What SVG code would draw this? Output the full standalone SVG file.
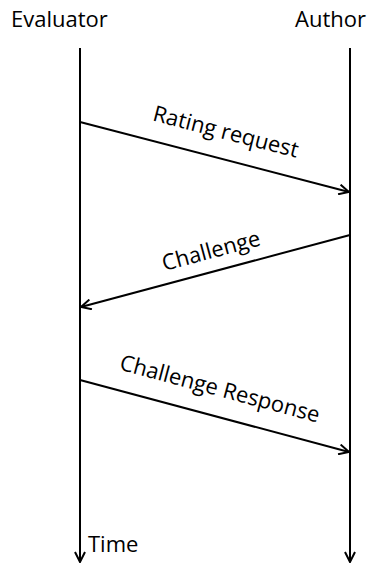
<svg xmlns="http://www.w3.org/2000/svg" width="380" height="565" viewBox="0 0 380 565">
  <style>
    text { font-family: "Open Sans", "Noto Sans", "Liberation Sans", sans-serif; font-size: 22px; fill: #000; }
    .life, .msg { stroke: #000; stroke-width: 2; fill: none; }
  </style>
  <defs>
    <marker id="head" viewBox="0 0 12 12" refX="11" refY="6" markerWidth="12" markerHeight="12" markerUnits="userSpaceOnUse" orient="auto">
      <path d="M1,1 L11,6 L1,11" fill="none" stroke="#000" stroke-width="2"/>
    </marker>
  </defs>

  <g id="evaluator">
    <text x="11" y="27">Evaluator</text>
  </g>
  <g id="author">
    <text x="295" y="27">Author</text>
  </g>
  <g id="time">
    <text x="88" y="552">Time</text>
  </g>

  <g id="connectors">
    <line class="life" x1="80" y1="48" x2="80" y2="562" marker-end="url(#head)"/>
    <line class="life" x1="350" y1="48" x2="350" y2="562" marker-end="url(#head)"/>
    <line class="msg" x1="80" y1="122" x2="349" y2="192" marker-end="url(#head)"/>
    <line class="msg" x1="350" y1="235" x2="81" y2="307" marker-end="url(#head)"/>
    <line class="msg" x1="80" y1="380" x2="349" y2="452" marker-end="url(#head)"/>
    <text transform="translate(224,139) rotate(14.5)" text-anchor="middle">Rating request</text>
    <text transform="translate(213,258) rotate(-15)" text-anchor="middle">Challenge</text>
    <text transform="translate(218,396) rotate(15)" text-anchor="middle">Challenge Response</text>
  </g>
</svg>
